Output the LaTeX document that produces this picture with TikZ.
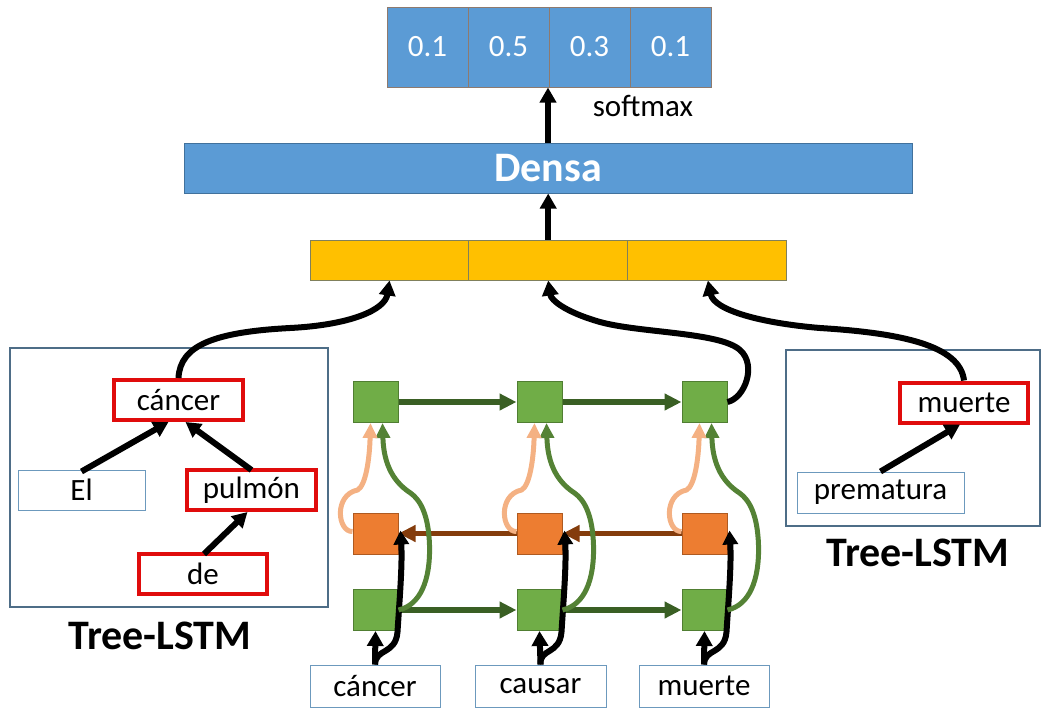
\documentclass[tikz,border=0pt]{standalone}
\usepackage{fontspec}
\setmainfont{Carlito}
\usetikzlibrary{arrows.meta}
\definecolor{cellblue}{HTML}{5B9BD5}
\definecolor{cellborder}{HTML}{8E7A6E}
\definecolor{densborder}{HTML}{41719C}
\definecolor{yel}{HTML}{FFC000}
\definecolor{yelborder}{HTML}{80805C}
\definecolor{gfill}{HTML}{70AD47}
\definecolor{gborder}{HTML}{507E32}
\definecolor{ofill}{HTML}{ED7D31}
\definecolor{oborder}{HTML}{AE5A21}
\definecolor{dkgreen}{HTML}{3A5F24}
\definecolor{brownarr}{HTML}{843C0C}
\definecolor{lorange}{HTML}{F4B183}
\definecolor{mgreen}{HTML}{548235}
\definecolor{treeb}{HTML}{4E6D87}
\definecolor{thinb}{HTML}{6C99BD}
\definecolor{redb}{HTML}{E00C0C}
\begin{document}
\begin{tikzpicture}[x=1pt,y=-1pt,
  lbl/.style={font=\fontsize{31}{36}\selectfont},
  cell/.style={draw=cellborder, fill=cellblue, line width=1pt, minimum width=81pt, minimum height=80pt, inner sep=0pt, text=white, lbl},
  dense/.style={draw=densborder, fill=cellblue, line width=1pt, minimum width=728pt, minimum height=50pt, inner sep=0pt, text=white, font=\fontsize{42}{48}\selectfont\bfseries},
  ycell/.style={draw=yelborder, fill=yel, line width=1pt, minimum width=158.7pt, minimum height=40pt, inner sep=0pt},
  treebox/.style={draw=treeb, line width=1.5pt, inner sep=0pt},
  tlabel/.style={font=\fontsize{42}{48}\selectfont\bfseries},
  wbox/.style={draw=thinb, line width=1pt, fill=white, inner sep=0pt, minimum height=40pt, lbl},
  rbox/.style={draw=redb, line width=4pt, fill=white, inner sep=0pt, minimum height=40pt, lbl},
  gsq/.style={draw=gborder, fill=gfill, line width=1pt, minimum width=45pt, minimum height=41pt, inner sep=0pt},
  osq/.style={draw=oborder, fill=ofill, line width=1pt, minimum width=45pt, minimum height=41pt, inner sep=0pt},
  blk/.style={line width=6pt, -{Triangle[length=15pt,width=16pt]}},
  grarr/.style={draw=dkgreen, line width=6pt, -{Triangle[length=17pt,width=16pt]}},
  brarr/.style={draw=brownarr, line width=5pt, -{Triangle[length=17pt,width=16pt]}},
  lorarr/.style={draw=lorange, line width=5pt, -{Triangle[length=15pt,width=14pt]}},
  mgarr/.style={draw=mgreen, line width=5pt, -{Triangle[length=15pt,width=14pt]}},
  blkc/.style={line width=6pt, -{Triangle[length=14pt,width=15pt]}}
]
\useasboundingbox (0,0) rectangle (1050,715);
% softmax output
\node[cell] (s1) at (427.5,47) {0.1};
\node[cell] (s2) at (508.5,47) {0.5};
\node[cell] (s3) at (589.5,47) {0.3};
\node[cell] (s4) at (670.5,47) {0.1};
\node[lbl] (sm) at (643,106) {softmax};
% dense
\node[dense] (d) at (548,168) {Densa};
% concat
\node[ycell] (y1) at (389.5,260) {};
\node[ycell] (y2) at (548.2,260) {};
\node[ycell] (y3) at (706.9,260) {};
\draw[blk] (d.north) -- (d.north |- s2.south east);
\draw[blk] (y2.north) -- (y2.north |- d.south);
% left tree
\node[treebox, minimum width=318pt, minimum height=259pt] (lt) at (169,477.5) {};
\node[tlabel] (ltl) at (160,636) {Tree-LSTM};
\node[rbox, minimum width=129pt] (lc) at (178.5,400) {cáncer};
\node[wbox, minimum width=127pt] (el) at (81.5,490) {El};
\node[rbox, minimum width=129pt] (pu) at (251.5,490) {pulmón};
\node[rbox, minimum width=128pt] (de) at (203,574) {de};
\draw[blk] ([yshift=-2pt]el.north) -- ([xshift=-10pt]lc.south);
\draw[blk] ([yshift=-2pt]pu.north) -- ([xshift=7pt]lc.south);
\draw[blk] ([xshift=1pt,yshift=-2pt]de.north) -- ([xshift=-4pt]pu.south);
% right tree
\node[treebox, minimum width=254pt, minimum height=176pt] (rt) at (913,438) {};
\node[tlabel] (rtl) at (918,553) {Tree-LSTM};
\node[rbox, minimum width=128pt] (rm) at (964,402.5) {muerte};
\node[wbox, minimum width=167pt, minimum height=41pt] (pr) at (880.5,492.5) {prematura};
\draw[blk] (pr.north) -- ([xshift=-4pt]rm.south);
% grid squares
\foreach \i/\x in {1/375.5,2/539.5,3/704.5}{
  \node[gsq] (t\i) at (\x,402) {};
  \node[osq] (o\i) at (\x,533.5) {};
  \node[gsq] (b\i) at (\x,610) {};
}
\node[wbox, minimum width=130pt, minimum height=42pt] (in1) at (375,686) {cáncer};
\node[wbox, minimum width=131pt, minimum height=42pt] (in2) at (540.5,686) {causar};
\node[wbox, minimum width=130pt, minimum height=42pt] (in3) at (704,686) {muerte};
% horizontal arrows
\draw[grarr] (t1.east) -- (t2.west);
\draw[grarr] (t2.east) -- (t3.west);
\draw[grarr] (b1.east) -- (b2.west);
\draw[grarr] (b2.east) -- (b3.west);
\draw[brarr] (o3.west) -- (o2.east);
\draw[brarr] (o2.west) -- (o1.east);
% per-column curves
\foreach \i/\x in {1/375.5,2/539.5,3/704.5}{
  \draw[blk] (in\i.north) -- (b\i.south);
  \draw[blkc] (in\i.north) .. controls (\x,648) and (\x+20,655) .. (\x+22,632)
     .. controls (\x+24,600) and (\x+27,565) .. ([xshift=2pt,yshift=3pt]o\i.east);
  \draw[mgarr] (b\i.east) .. controls (\x+45,605) and (\x+55,580) .. (\x+54,545)
     .. controls (\x+53,515) and (\x+45,500) .. (\x+35,493)
     .. controls (\x+15,480) and (\x+8,460) .. ([xshift=7pt]t\i.south);
  \draw[lorarr] ([yshift=2pt]o\i.west) .. controls (\x-38,532) and (\x-42,495) .. (\x-18,490)
     .. controls (\x-10,486) and (\x-6,460) .. ([xshift=-5pt]t\i.south);
}
% top curves
\draw[blk] (lc.north) .. controls (180,345) and (215,332) .. (290,328)
   .. controls (350,325) and (385,310) .. ([xshift=0pt]y1.south);
\draw[blk] (t3.east) .. controls (745,398) and (757,365) .. (740,350)
   .. controls (720,332) and (640,333) .. (600,322)
   .. controls (565,312) and (551,300) .. (y2.south);
\draw[blk] (rm.north) .. controls (960,345) and (900,333) .. (820,328)
   .. controls (760,323) and (714,310) .. ([xshift=1pt]y3.south);
\end{tikzpicture}
\end{document}
